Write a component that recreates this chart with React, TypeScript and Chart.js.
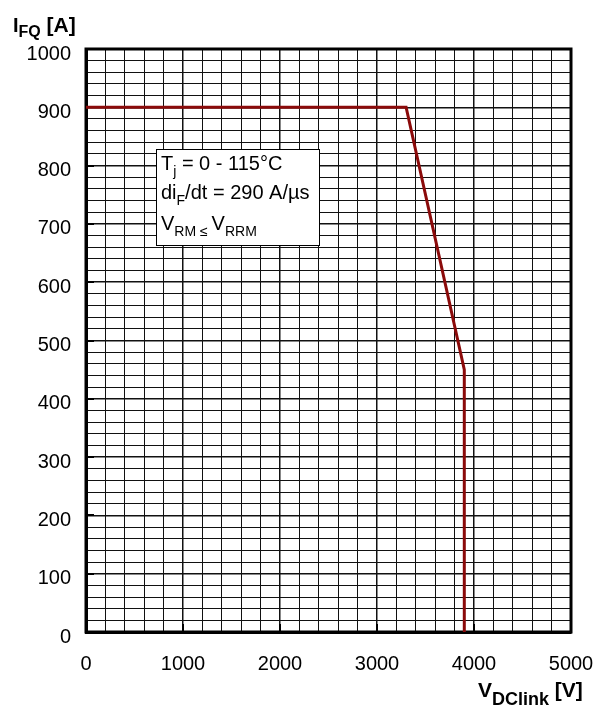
import React, { useEffect, useRef } from "react";
import { Chart, registerables } from "chart.js";

Chart.register(...registerables);

// Data
const voltageV: number[] = [0, 3300, 3900, 3900];
const currentA: number[] = [900, 900, 450, 0];

const xMin = 0, xMax = 5000, xMinorStep = 200, xMajorStep = 1000;
const yMin = 0, yMax = 1000, yMinorStep = 20, yMajorStep = 100;

const legendLines: { text: string; sub?: boolean }[][] = [
  [{ text: "T" }, { text: "j", sub: true }, { text: " = 0 - 115°C" }],
  [{ text: "di" }, { text: "F", sub: true }, { text: "/dt = 290 A/µs" }],
  [{ text: "V" }, { text: "RM ≤ ", sub: true }, { text: "V" }, { text: "RRM", sub: true }],
];

const FONT = "Arial, 'Liberation Sans', Helvetica, sans-serif";

type Part = { text: string; font: string; dy: number };

function drawParts(ctx: CanvasRenderingContext2D, parts: Part[], x: number, y: number) {
  let cx = x;
  ctx.textAlign = "left";
  ctx.textBaseline = "alphabetic";
  for (const p of parts) {
    ctx.font = p.font;
    ctx.fillText(p.text, cx, y + p.dy);
    cx += ctx.measureText(p.text).width;
  }
}

const decorPlugin = {
  id: "decor",
  beforeDatasetsDraw(chart: any) {
    const { ctx, chartArea } = chart;
    const xs = chart.scales.x;
    const ys = chart.scales.y;
    ctx.save();
    ctx.strokeStyle = "#000";
    // inner major stubs
    ctx.lineWidth = 2;
    for (let v = yMin + yMajorStep; v < yMax; v += yMajorStep) {
      const py = Math.round(ys.getPixelForValue(v));
      ctx.beginPath();
      ctx.moveTo(chartArea.left, py);
      ctx.lineTo(chartArea.left + 8, py);
      ctx.stroke();
    }
    for (let v = xMin + xMajorStep; v < xMax; v += xMajorStep) {
      const px = Math.round(xs.getPixelForValue(v));
      ctx.beginPath();
      ctx.moveTo(px, chartArea.bottom);
      ctx.lineTo(px, chartArea.bottom - 8);
      ctx.stroke();
    }
    // frame
    ctx.lineWidth = 3;
    ctx.strokeRect(chartArea.left, chartArea.top, chartArea.right - chartArea.left, chartArea.bottom - chartArea.top);
    ctx.restore();
  },
  afterDraw(chart: any) {
    const { ctx } = chart;
    ctx.save();
    ctx.fillStyle = "#000";
    // y axis title
    drawParts(ctx, [
      { text: "I", font: `bold 20px ${FONT}`, dy: 0 },
      { text: "FQ", font: `bold 16px ${FONT}`, dy: 5 },
      { text: " [A]", font: `bold 21px ${FONT}`, dy: 0 },
    ], 13, 32);
    // x axis title
    drawParts(ctx, [
      { text: "V", font: `bold 21px ${FONT}`, dy: 0 },
      { text: "DClink", font: `bold 18px ${FONT}`, dy: 8 },
      { text: " [V]", font: `bold 21px ${FONT}`, dy: 0 },
    ], 478, 697);

    // annotation box
    ctx.fillStyle = "#fff";
    ctx.fillRect(156.5, 149.5, 163, 96);
    ctx.strokeStyle = "#000";
    ctx.lineWidth = 1;
    ctx.strokeRect(156.5, 149.5, 163, 96);
    ctx.fillStyle = "#000";
    const baselines = [169.5, 198.5, 230];
    legendLines.forEach((line, i) => {
      drawParts(
        ctx,
        line.map((p) => ({
          text: p.text,
          font: p.sub ? `14px ${FONT}` : `20px ${FONT}`,
          dy: p.sub ? 6 : 0,
        })),
        161,
        baselines[i]
      );
    });
    ctx.restore();
  },
};

export default function App() {
  const canvasRef = useRef<HTMLCanvasElement | null>(null);

  useEffect(() => {
    const canvas = canvasRef.current;
    if (!canvas) return;
    const chart = new Chart(canvas, {
      type: "line",
      data: {
        datasets: [
          {
            data: voltageV.map((v, i) => ({ x: v, y: currentA[i] })),
            borderColor: "#8b0a0a",
            borderWidth: 3,
            pointRadius: 0,
            fill: false,
            tension: 0,
          },
        ],
      },
      options: {
        animation: false,
        responsive: false,
        devicePixelRatio: 1,
        layout: { padding: { left: 0, right: 26, top: 49, bottom: 0 } },
        plugins: { legend: { display: false }, tooltip: { enabled: false } },
        scales: {
          x: {
            type: "linear",
            min: xMin,
            max: xMax,
            afterFit: (s: any) => {
              s.height = 74;
              s.paddingLeft = 0;
              s.paddingRight = 0;
            },
            ticks: {
              stepSize: xMinorStep,
              maxTicksLimit: 100,
              autoSkip: false,
              maxRotation: 0,
              padding: 20,
              color: "#000",
              font: { family: FONT, size: 20 },
              callback: (v: any) => (Number(v) % xMajorStep === 0 ? String(v) : ""),
            },
            grid: {
              color: "#111",
              lineWidth: (c: any) => (c.tick && c.tick.value % xMajorStep === 0 ? 1.5 : 1),
              drawTicks: false,
            },
            border: { display: true, color: "#000", width: 3 },
          },
          y: {
            type: "linear",
            min: yMin,
            max: yMax,
            afterFit: (s: any) => {
              s.width = 86;
              s.paddingTop = 0;
              s.paddingBottom = 0;
            },
            ticks: {
              stepSize: yMinorStep,
              maxTicksLimit: 100,
              autoSkip: false,
              padding: 15,
              labelOffset: 5,
              color: "#000",
              font: { family: FONT, size: 20 },
              callback: (v: any) => (Number(v) % yMajorStep === 0 ? String(v) : ""),
            },
            grid: {
              color: "#111",
              lineWidth: (c: any) => (c.tick && c.tick.value % yMajorStep === 0 ? 1.5 : 1),
              drawTicks: false,
            },
            border: { display: true, color: "#000", width: 3 },
          },
        },
      } as any,
      plugins: [decorPlugin],
    });
    return () => chart.destroy();
  }, []);

  return (
    <div style={{ position: "absolute", left: 0, top: 0, width: 597, height: 706, background: "#fff" }}>
      <canvas ref={canvasRef} width={597} height={706} style={{ display: "block" }} />
    </div>
  );
}
